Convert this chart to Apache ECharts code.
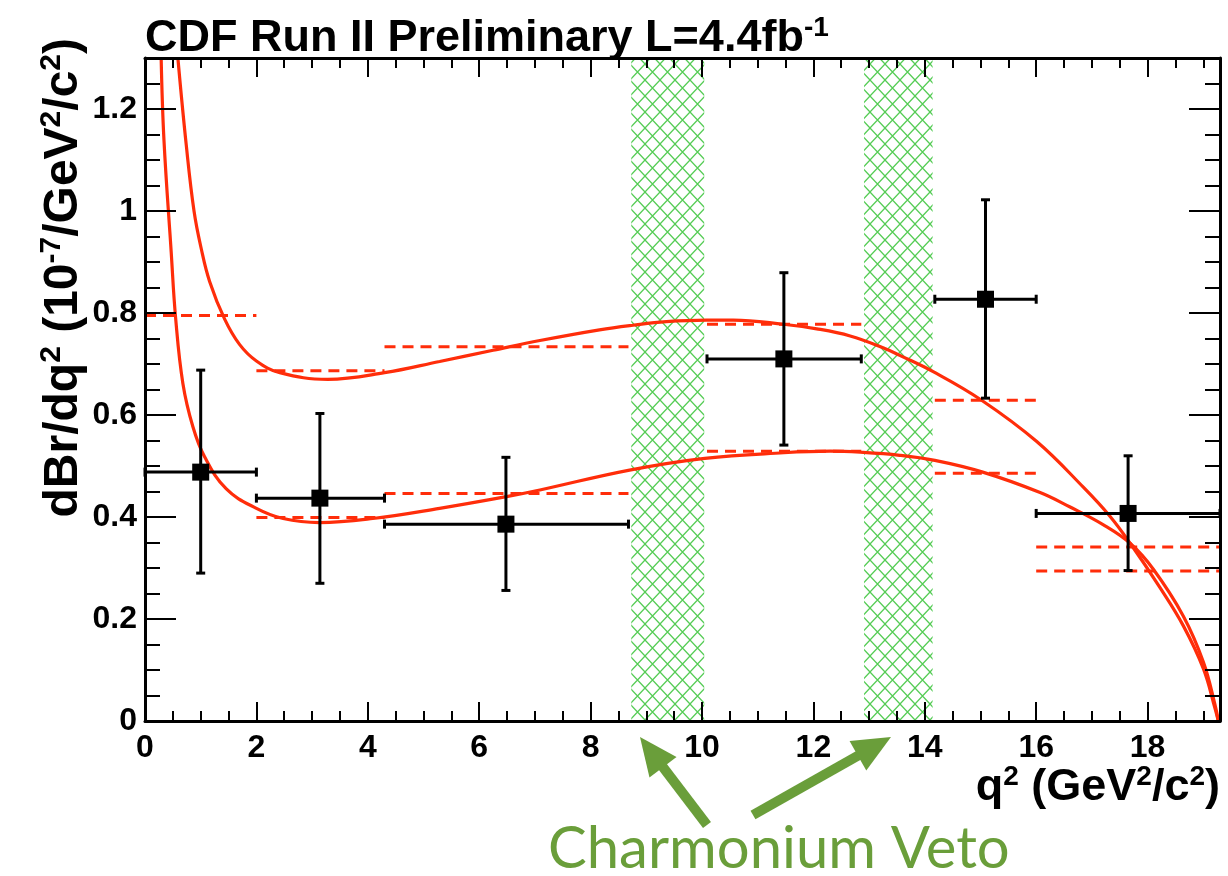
<!DOCTYPE html>
<html><head><meta charset="utf-8">
<script src="https://cdn.jsdelivr.net/npm/echarts@6/dist/echarts.min.js"></script>
<style>html,body{margin:0;padding:0;background:#fff}#c{width:1228px;height:876px}</style>
</head><body><div id="c"></div>
<script>
// ---- data ----
const binLo = [0, 2, 4.3, 10.09, 14.18, 16];
const binHi = [2, 4.3, 8.68, 12.86, 16, 19.3];
const ptX   = [1.0, 3.14, 6.48, 11.47, 15.09, 17.65];
const ptY   = [0.488, 0.437, 0.386, 0.710, 0.827, 0.407];
const ptYLo = [0.290, 0.270, 0.256, 0.541, 0.633, 0.295];
const ptYHi = [0.688, 0.603, 0.517, 0.879, 1.022, 0.520];
const smLo  = [0.795, 0.399, 0.446, 0.529, 0.486, 0.294];
const smHi  = [null, 0.687, 0.734, 0.778, 0.629, 0.341];
const vetoLo = [8.73, 12.91];
const vetoHi = [10.04, 14.14];
const theoryUpper = [[0.59,1.30],[0.74,1.13],[0.88,1.00],[1.01,0.926],[1.16,0.862],[1.43,0.788],[1.70,0.738],[2.0,0.706],[2.42,0.683],[3.28,0.670],[4.30,0.683],[5.29,0.705],[6.25,0.727],[7.09,0.746],[8.16,0.767],[8.76,0.776],[9.36,0.783],[10.08,0.786],[10.56,0.786],[11.46,0.778],[12.06,0.769],[12.66,0.755],[13.25,0.732],[13.55,0.717],[14.15,0.685],[15.02,0.629],[16.01,0.548],[16.85,0.458],[17.32,0.402],[17.69,0.348],[18.22,0.262],[18.64,0.187],[19.0,0.103],[19.21,0.025],[19.27,0]];
const theoryLower = [[0.29,1.30],[0.34,1.14],[0.47,0.920],[0.55,0.790],[0.68,0.662],[0.86,0.577],[1.07,0.518],[1.46,0.455],[2.0,0.417],[2.48,0.397],[3.13,0.389],[4.09,0.397],[5.29,0.417],[6.49,0.440],[7.09,0.453],[8.7,0.492],[10.05,0.515],[11.47,0.526],[12.3,0.529],[12.84,0.527],[13.55,0.521],[14.18,0.511],[15.04,0.488],[16.07,0.448],[16.6,0.420],[17.2,0.385],[17.69,0.348],[18.10,0.298],[18.64,0.206],[19.0,0.116],[19.21,0.032],[19.27,0]];
const xMin = 0, xMax = 19.3, yMin = 0, yMax = 1.3;

// ---- styles ----
const FONT = '"Liberation Sans", Arial, Helvetica, sans-serif';
const RED = '#ff2d0a';
const GREEN = '#6a9e3a';
function mult(v, s) { const r = v / s; return Math.abs(r - Math.round(r)) < 1e-6; }

function hatch() {
  const w = 15, h = 16;
  const c = document.createElement('canvas');
  c.width = w; c.height = h;
  const g = c.getContext('2d');
  g.strokeStyle = '#55cc55'; g.lineWidth = 1.3;
  g.beginPath(); g.moveTo(0, 0); g.lineTo(w, h); g.moveTo(w, 0); g.lineTo(0, h); g.stroke();
  return c;
}

function xAx(pos, interval, len, line, labels) {
  return {
    type: 'value', position: pos, min: xMin, max: xMax, interval: interval, z: 10,
    axisLine: {show: line, onZero: false, lineStyle: {color: '#000', width: 3}},
    axisTick: {show: true, inside: true, length: len, lineStyle: {color: '#000', width: 2}},
    axisLabel: labels ? {
      show: true, margin: 11, color: '#000', fontSize: 32, fontWeight: 'bold', fontFamily: FONT,
      formatter: v => (mult(v, 2) && v < 19) ? String(Math.round(v)) : ''
    } : {show: false},
    splitLine: {show: false}, minorTick: {show: false}
  };
}
function yAx(pos, interval, len, line, labels) {
  return {
    type: 'value', position: pos, min: yMin, max: yMax, interval: interval, z: 10,
    axisLine: {show: line, onZero: false, lineStyle: {color: '#000', width: 3}},
    axisTick: {show: true, inside: true, length: len, lineStyle: {color: '#000', width: 2}},
    axisLabel: labels ? {
      show: true, margin: 8, color: '#000', fontSize: 32, fontWeight: 'bold', fontFamily: FONT,
      formatter: v => mult(v, 0.2) ? String(+v.toFixed(1)) : ''
    } : {show: false},
    splitLine: {show: false}, minorTick: {show: false}
  };
}

function arrow(tail, tip) {
  const dx = tip[0] - tail[0], dy = tip[1] - tail[1];
  const L = Math.hypot(dx, dy), ux = dx / L, uy = dy / L, nx = -uy, ny = ux;
  const hl = 38, hw = 17;
  const bx = tip[0] - hl * ux, by = tip[1] - hl * uy;
  return [
    {type: 'polyline', silent: true, z: 20, shape: {points: [tail, [bx + 4 * ux, by + 4 * uy]]},
     style: {stroke: GREEN, lineWidth: 10, fill: null}},
    {type: 'polygon', silent: true, z: 20, shape: {points: [tip, [bx + hw * nx, by + hw * ny], [bx - hw * nx, by - hw * ny]]},
     style: {fill: GREEN}}
  ];
}

const pattern = {image: hatch(), repeat: 'repeat'};
const errData = ptX.map((x, i) => [x, ptY[i], binLo[i], binHi[i], ptYLo[i], ptYHi[i]]);
const dashData = [];
binLo.forEach((lo, i) => {
  if (smLo[i] != null) dashData.push([lo, binHi[i], smLo[i]]);
  if (smHi[i] != null) dashData.push([lo, binHi[i], smHi[i]]);
});
const vetoData = vetoLo.map((lo, i) => [lo, vetoHi[i], yMin, yMax]);

const SUPA = {fontSize: 48, fontWeight: 'bold', fontFamily: FONT, fill: '#000', lineHeight: 54};
const SUPS = {fontSize: 30, fontWeight: 'bold', fontFamily: FONT, fill: '#000', lineHeight: 32, verticalAlign: 'top'};

const chart = echarts.init(document.getElementById('c'), null, {renderer: 'canvas'});
const option = {
  animation: false,
  backgroundColor: '#fff',
  grid: {left: 145, right: 8, top: 58, bottom: 155, containLabel: false},
  xAxis: [
    xAx('bottom', 0.5, 10, true, false),
    xAx('bottom', 2, 19, false, true),
    xAx('top', 0.5, 10, true, false),
    xAx('top', 2, 19, false, false)
  ],
  yAxis: [
    yAx('left', 0.05, 15, true, false),
    yAx('left', 0.2, 31, false, true),
    yAx('right', 0.05, 15, true, false),
    yAx('right', 0.2, 31, false, false)
  ],
  series: [
    {
      type: 'custom', name: 'veto', z: 1, silent: true,
      data: vetoData, encode: {x: [0, 1], y: [2, 3]},
      renderItem: (params, api) => {
        const a = api.coord([api.value(0), api.value(3)]);
        const b = api.coord([api.value(1), api.value(2)]);
        return {type: 'rect', shape: {x: a[0], y: a[1], width: b[0] - a[0], height: b[1] - a[1]},
                style: {fill: pattern}};
      }
    },
    {
      type: 'custom', name: 'sm bins', z: 3, silent: true,
      data: dashData, encode: {x: [0, 1], y: 2},
      renderItem: (params, api) => {
        const a = api.coord([api.value(0), api.value(2)]);
        const b = api.coord([api.value(1), api.value(2)]);
        return {type: 'line', shape: {x1: a[0], y1: a[1], x2: b[0], y2: b[1]},
                style: {stroke: RED, lineWidth: 3, lineDash: [11, 7]}};
      }
    },
    {
      type: 'line', name: 'upper', z: 4, data: theoryUpper, showSymbol: false, smooth: 0.4,
      lineStyle: {color: RED, width: 3.2}, silent: true
    },
    {
      type: 'line', name: 'lower', z: 4, data: theoryLower, showSymbol: false, smooth: 0.4,
      lineStyle: {color: RED, width: 3.2}, silent: true
    },
    {
      type: 'custom', name: 'errors', z: 5, silent: true,
      data: errData, encode: {x: [0, 2, 3], y: [1, 4, 5]},
      renderItem: (params, api) => {
        const x = api.value(0), y = api.value(1);
        const l = api.coord([api.value(2), y]), r = api.coord([api.value(3), y]);
        const bt = api.coord([x, api.value(4)]), tp = api.coord([x, api.value(5)]);
        const cap = 4.5, st = {stroke: '#000', lineWidth: 3};
        const ln = (x1, y1, x2, y2) => ({type: 'line', shape: {x1, y1, x2, y2}, style: st});
        return {type: 'group', children: [
          ln(l[0], l[1], r[0], r[1]),
          ln(bt[0], bt[1], tp[0], tp[1]),
          ln(l[0], l[1] - cap, l[0], l[1] + cap),
          ln(r[0], r[1] - cap, r[0], r[1] + cap),
          ln(bt[0] - cap, bt[1], bt[0] + cap, bt[1]),
          ln(tp[0] - cap, tp[1], tp[0] + cap, tp[1])
        ]};
      }
    },
    {
      type: 'scatter', name: 'data', z: 6, data: ptX.map((x, i) => [x, ptY[i]]),
      symbol: 'rect', symbolSize: 17, itemStyle: {color: '#000', opacity: 1}, silent: true
    }
  ],
  graphic: [
    {type: 'text', x: 145, y: 14, z: 20, silent: true, style: {
      text: '{a|CDF Run II Preliminary L=4.4fb}{s|-1}',
      rich: {
        a: {fontSize: 45, fontWeight: 'bold', fontFamily: FONT, fill: '#000', lineHeight: 50},
        s: {fontSize: 28, fontWeight: 'bold', fontFamily: FONT, fill: '#000', lineHeight: 30, verticalAlign: 'top'}
      }
    }},
    {type: 'text', x: 64, y: 38, rotation: Math.PI / 2, z: 20, silent: true, style: {
      text: '{a|dBr/dq}{s|2}{a| (10}{s|-7}{a|/GeV}{s|2}{a|/c}{s|2}{a|)}',
      align: 'right', verticalAlign: 'middle',
      rich: {a: SUPA, s: SUPS}
    }},
    {type: 'text', x: 1220, y: 763, z: 20, silent: true, style: {
      text: '{a|q}{s|2}{a| (GeV}{s|2}{a|/c}{s|2}{a|)}',
      align: 'right', verticalAlign: 'top',
      rich: {
        a: {fontSize: 45, fontWeight: 'bold', fontFamily: FONT, fill: '#000', lineHeight: 50},
        s: {fontSize: 28, fontWeight: 'bold', fontFamily: FONT, fill: '#000', lineHeight: 30, verticalAlign: 'top'}
      }
    }},
    {type: 'text', x: 548, y: 878, z: 20, silent: true, style: {
      text: 'Charmonium Veto', fill: GREEN, font: '58px Lato, "Open Sans", sans-serif',
      align: 'left', verticalAlign: 'bottom'
    }}
  ].concat(arrow([707, 825], [640, 737])).concat(arrow([753, 815], [891, 737]))
};
chart.setOption(option);
</script></body></html>
